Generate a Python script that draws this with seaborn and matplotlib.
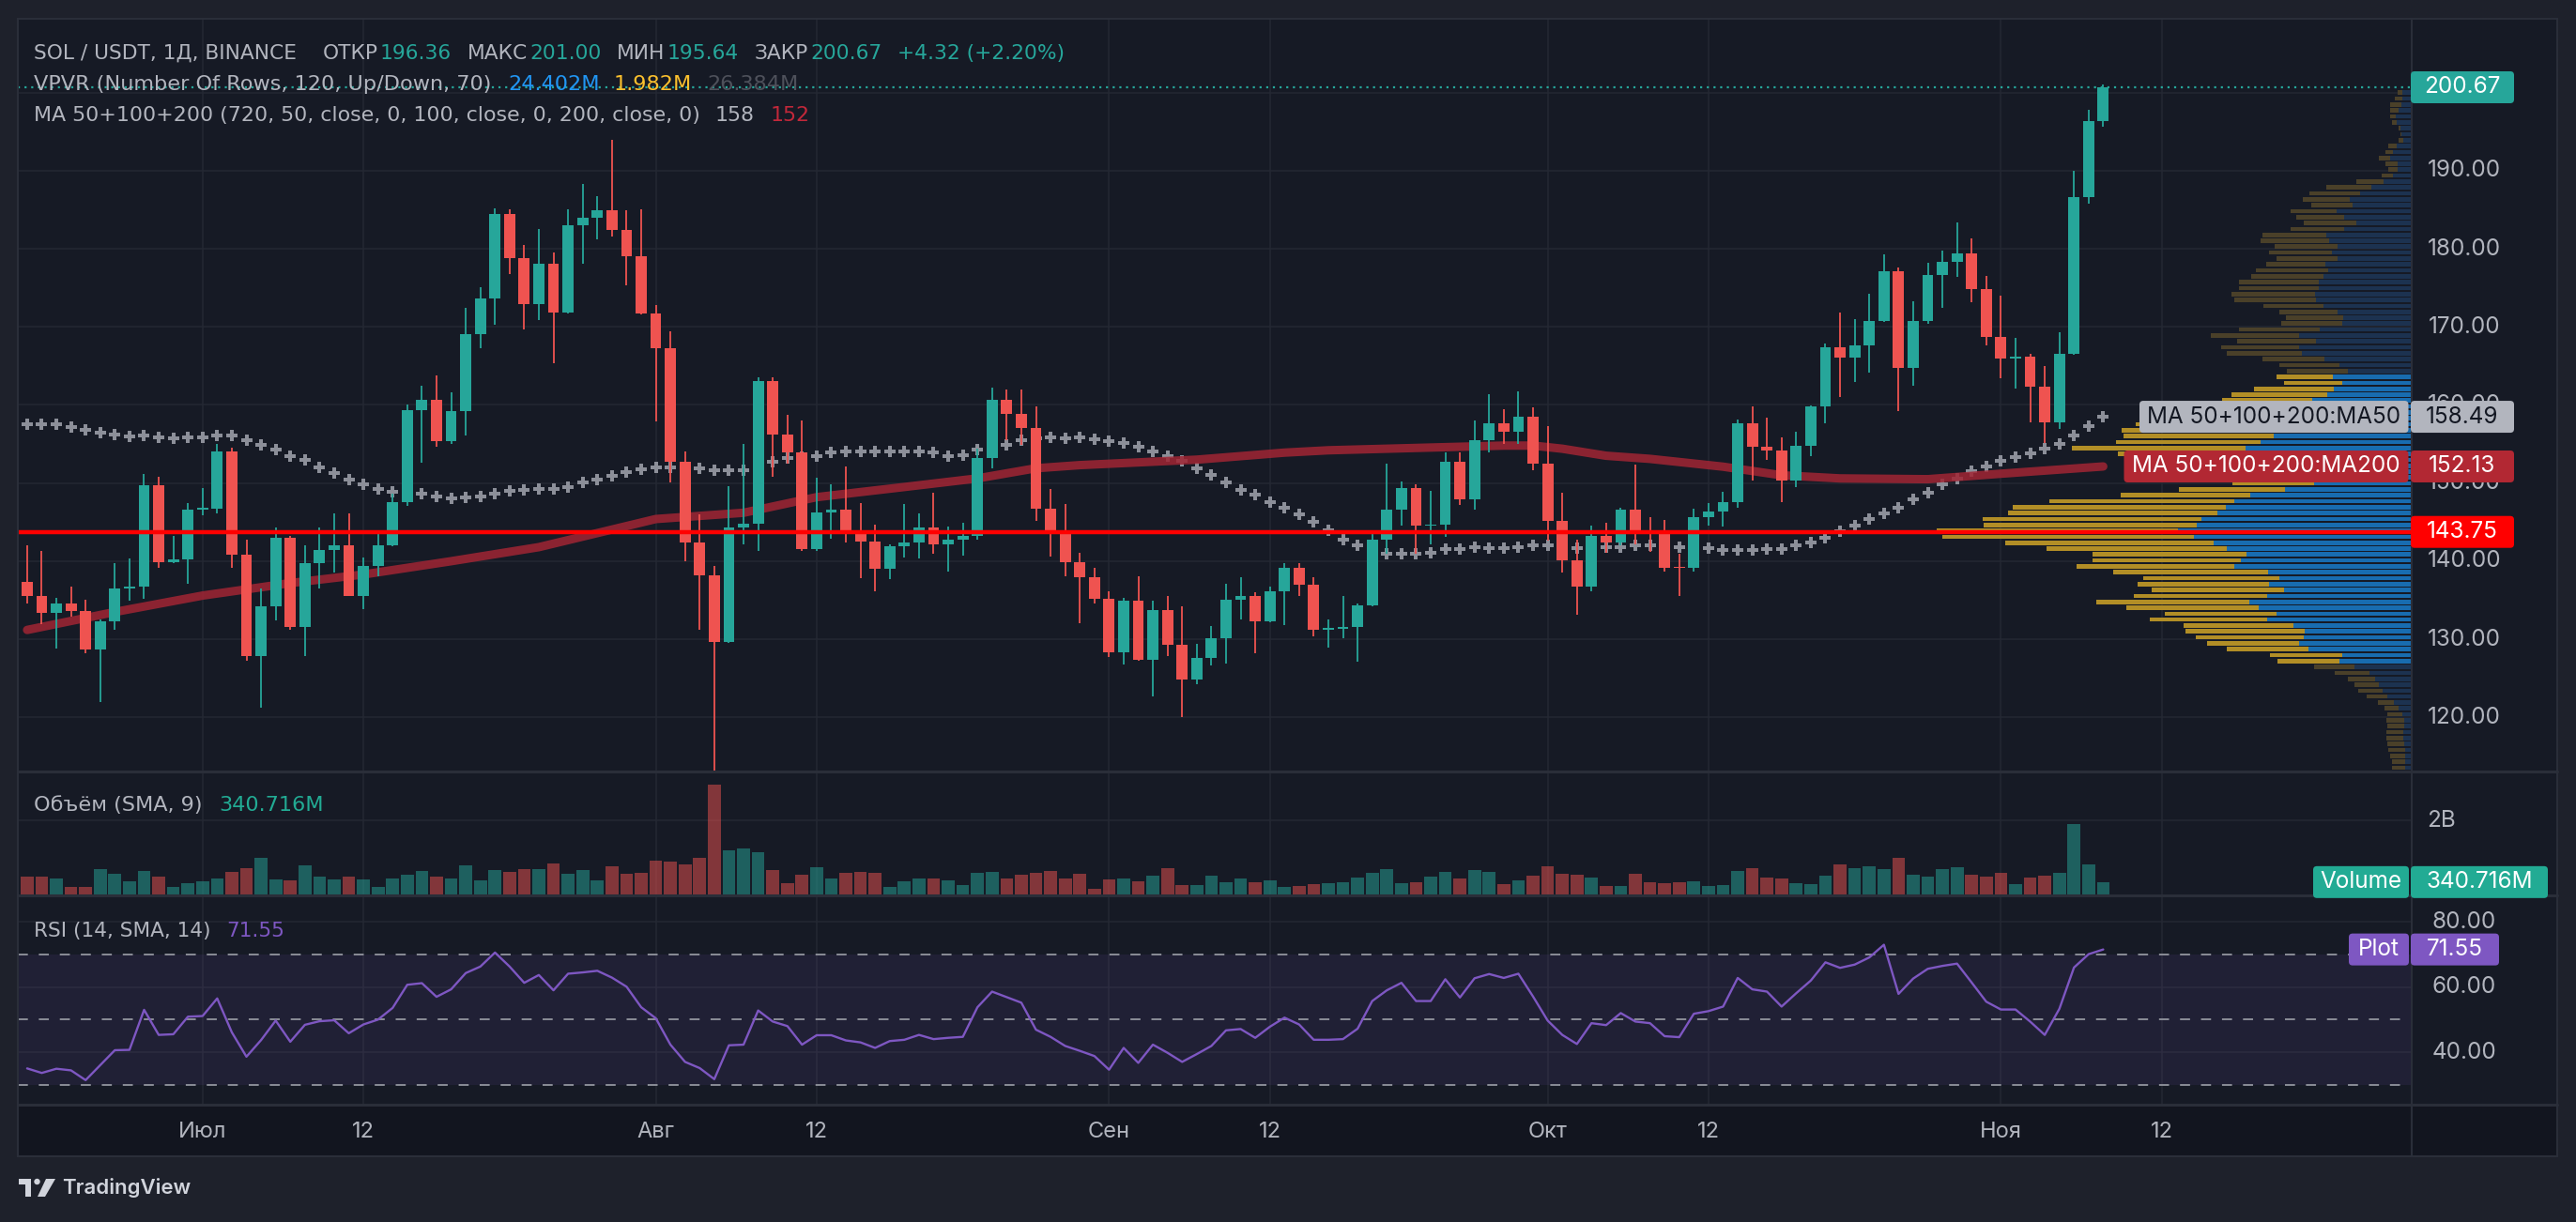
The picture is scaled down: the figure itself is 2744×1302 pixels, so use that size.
import numpy as np
import pandas as pd
import matplotlib
matplotlib.use("Agg")
import matplotlib.pyplot as plt
import seaborn as sns
from matplotlib.patches import FancyBboxPatch, Rectangle, Circle, Polygon
from matplotlib.lines import Line2D
from matplotlib.transforms import IdentityTransform
from matplotlib.colors import to_rgba
from matplotlib.textpath import TextPath
from matplotlib.font_manager import FontProperties, findfont

# ---------------- data ----------------
start = pd.Timestamp("2024-06-19")

opens = [137.4, 135.5, 133.4, 134.6, 133.6, 128.7, 132.3, 136.5, 136.8, 149.7,
         139.9, 140.2, 146.6, 146.7, 154.1, 140.8, 127.8, 134.2, 143.0, 131.6,
         139.7, 141.4, 142.0, 135.6, 139.4, 142.0, 147.6, 159.3, 160.6, 155.4,
         159.2, 169.1, 173.6, 184.4, 178.8, 172.9, 178.1, 171.8, 183.0, 184.0,
         184.9, 182.4, 179.1, 171.7, 167.3, 152.7, 142.4, 138.2, 129.7, 144.3,
         144.8, 163.1, 156.2, 153.9, 141.5, 146.2, 146.6, 143.6, 142.5, 139.0,
         141.9, 142.4, 144.3, 142.2, 142.8, 143.2, 153.2, 160.7, 158.8, 157.0,
         146.7, 143.5, 139.9, 137.9, 135.2, 128.3, 135.0, 127.4, 133.7, 129.3,
         124.9, 127.6, 130.2, 135.1, 135.6, 132.3, 136.1, 139.1, 137.0, 131.2,
         131.4, 131.6, 134.3, 142.8, 146.6, 149.4, 144.5, 144.7, 152.7, 147.9,
         155.5, 157.6, 156.6, 158.5, 152.5, 145.2, 140.1, 136.7, 143.2, 142.4,
         146.6, 143.8, 143.6, 139.2, 139.1, 145.6, 146.4, 147.6, 157.6, 154.7,
         154.2, 150.3, 154.8, 159.8, 167.4, 166.1, 167.6, 170.8, 177.1, 164.8,
         170.8, 176.6, 178.3, 179.4, 174.8, 168.7, 166.0, 166.2, 162.3, 157.8,
         166.5, 186.6, 196.36]
highs = [142.0, 141.3, 135.3, 136.7, 135.1, 132.6, 139.8, 140.3, 151.2, 150.8,
         143.2, 147.5, 149.4, 155.0, 154.5, 142.7, 136.5, 144.3, 143.2, 142.0,
         144.3, 146.1, 146.1, 140.5, 143.5, 148.7, 160.0, 162.5, 163.8, 161.6,
         172.4, 175.1, 185.2, 185.1, 180.5, 182.5, 179.5, 185.1, 188.3, 186.7,
         194.0, 184.9, 185.1, 172.8, 169.4, 154.1, 146.0, 139.4, 149.6, 155.0,
         163.6, 163.5, 158.7, 158.0, 150.7, 149.8, 152.1, 147.5, 144.7, 142.1,
         147.3, 146.1, 148.8, 144.4, 144.9, 154.4, 162.2, 162.0, 162.0, 159.8,
         149.2, 147.3, 141.1, 139.2, 136.2, 135.3, 138.1, 135.0, 135.6, 134.2,
         129.4, 131.7, 137.1, 138.0, 136.0, 136.8, 139.8, 139.8, 138.0, 132.5,
         135.6, 134.6, 143.6, 152.5, 150.2, 149.8, 149.0, 153.9, 153.9, 158.0,
         161.4, 159.4, 161.7, 159.7, 157.3, 148.8, 142.8, 144.5, 144.9, 146.8,
         152.4, 145.6, 145.3, 140.9, 146.7, 147.4, 148.9, 158.1, 159.8, 158.4,
         155.8, 156.6, 159.9, 167.9, 171.8, 171.0, 174.2, 179.3, 177.6, 173.3,
         178.2, 179.8, 183.4, 181.3, 176.5, 174.0, 168.6, 166.5, 165.0, 169.3,
         190.0, 197.8, 201.0]
lows = [134.6, 131.9, 128.8, 132.9, 128.2, 122.0, 131.2, 134.9, 135.2, 139.1,
        139.7, 137.1, 145.9, 146.1, 139.1, 127.2, 121.2, 132.4, 131.2, 127.8,
        136.5, 138.6, 135.5, 133.9, 138.1, 141.9, 147.1, 152.6, 154.7, 155.0,
        156.1, 167.3, 170.3, 176.7, 169.7, 170.9, 165.3, 171.7, 178.1, 181.2,
        181.6, 175.3, 171.6, 157.9, 150.1, 140.0, 131.2, 113.2, 129.5, 142.2,
        141.3, 150.8, 152.5, 141.3, 141.3, 142.9, 142.4, 137.8, 136.2, 137.7,
        140.5, 140.3, 141.0, 138.7, 140.7, 142.7, 151.9, 155.5, 154.9, 145.1,
        140.6, 138.1, 132.1, 134.6, 127.7, 126.8, 127.2, 122.7, 127.9, 120.1,
        124.3, 126.6, 126.9, 132.5, 128.2, 132.2, 131.8, 135.6, 130.4, 128.9,
        130.2, 127.1, 134.2, 141.0, 144.6, 141.0, 142.2, 143.1, 147.2, 146.6,
        153.9, 155.0, 155.0, 151.7, 142.6, 138.6, 133.2, 136.1, 141.1, 142.0,
        142.1, 141.2, 138.7, 135.5, 138.7, 144.6, 144.4, 146.8, 150.3, 153.0,
        147.6, 149.5, 153.4, 157.6, 161.0, 163.0, 164.2, 170.6, 159.2, 162.5,
        170.4, 172.4, 176.4, 173.1, 167.6, 163.4, 162.1, 157.8, 155.1, 156.9,
        166.4, 185.8, 195.64]
closes = [135.5, 133.4, 134.6, 133.6, 128.7, 132.3, 136.5, 136.8, 149.7, 139.9,
          140.2, 146.6, 146.7, 154.1, 140.8, 127.8, 134.2, 143.0, 131.6, 139.7,
          141.4, 142.0, 135.6, 139.4, 142.0, 147.6, 159.3, 160.6, 155.4, 159.2,
          169.1, 173.6, 184.4, 178.8, 172.9, 178.1, 171.8, 183.0, 184.0, 184.9,
          182.4, 179.1, 171.7, 167.3, 152.7, 142.4, 138.2, 129.7, 144.3, 144.8,
          163.1, 156.2, 153.9, 141.5, 146.2, 146.6, 143.6, 142.5, 139.0, 141.9,
          142.4, 144.3, 142.2, 142.8, 143.2, 153.2, 160.7, 158.8, 157.0, 146.7,
          143.5, 139.9, 137.9, 135.2, 128.3, 135.0, 127.4, 133.7, 129.3, 124.9,
          127.6, 130.2, 135.1, 135.6, 132.3, 136.1, 139.1, 137.0, 131.2, 131.5,
          131.6, 134.3, 142.8, 146.6, 149.4, 144.5, 144.7, 152.7, 147.9, 155.5,
          157.6, 156.6, 158.5, 152.5, 145.2, 140.1, 136.7, 143.2, 142.4, 146.6,
          143.8, 143.6, 139.2, 139.1, 145.6, 146.4, 147.6, 157.6, 154.7, 154.2,
          150.3, 154.8, 159.8, 167.4, 166.1, 167.6, 170.8, 177.1, 164.8, 170.8,
          176.6, 178.3, 179.4, 174.8, 168.7, 166.0, 166.2, 162.3, 157.8, 166.5,
          186.6, 196.35, 200.67]

# daily volume, billions of USDT
volume_b = [.50, .48, .43, .21, .22, .70, .56, .35, .65, .50,
            .22, .30, .35, .43, .61, .71, .99, .40, .38, .79,
            .48, .40, .48, .41, .20, .45, .53, .63, .48, .43,
            .79, .38, .66, .61, .69, .69, .84, .56, .66, .38,
            .76, .56, .58, .92, .89, .81, .99, 2.96, 1.20, 1.25,
            1.15, .66, .30, .53, .74, .43, .58, .61, .58, .22,
            .35, .43, .45, .38, .27, .58, .61, .43, .53, .58,
            .63, .43, .56, .17, .40, .43, .35, .51, .71, .27,
            .27, .51, .33, .43, .33, .38, .20, .24, .28, .31,
            .34, .46, .59, .69, .31, .34, .49, .62, .44, .67,
            .62, .29, .39, .51, .77, .57, .54, .46, .24, .24,
            .57, .34, .31, .34, .36, .24, .26, .64, .72, .46,
            .44, .31, .29, .51, .82, .72, .77, .69, 1.00, .54,
            .49, .69, .74, .54, .49, .59, .29, .46, .51, .59,
            1.91, .82, .340716]

rsi = [35.0, 33.6, 34.9, 34.4, 31.4, 36.0, 40.6, 40.7, 53.0, 45.3,
       45.5, 50.9, 51.1, 56.5, 46.1, 38.6, 43.7, 49.7, 43.2, 48.4,
       49.5, 49.8, 45.8, 48.5, 50.0, 53.6, 60.7, 61.2, 57.0, 59.3,
       64.3, 66.3, 70.6, 66.3, 61.3, 63.7, 59.0, 64.1, 64.5, 65.0,
       62.9, 60.1, 53.8, 50.4, 42.3, 37.0, 35.1, 31.7, 42.1, 42.3,
       52.8, 49.4, 48.0, 42.3, 45.2, 45.2, 43.6, 43.0, 41.3, 43.4,
       43.8, 45.3, 44.0, 44.4, 44.7, 53.8, 58.6, 56.9, 55.2, 46.9,
       44.7, 41.9, 40.4, 38.8, 34.6, 41.3, 36.7, 42.3, 39.8, 37.0,
       39.4, 41.9, 46.7, 47.1, 44.4, 47.8, 50.6, 48.5, 43.8, 43.8,
       44.0, 47.2, 55.7, 59.0, 61.3, 55.7, 55.7, 62.4, 56.8, 62.7,
       64.0, 62.8, 64.1, 57.1, 49.7, 45.3, 42.5, 48.9, 48.3, 52.0,
       49.4, 48.9, 44.9, 44.6, 51.8, 52.6, 54.0, 62.8, 59.3, 58.6,
       54.0, 58.1, 62.0, 67.6, 65.9, 66.9, 69.1, 73.0, 57.9, 62.6,
       65.6, 66.5, 67.2, 61.4, 55.5, 53.1, 53.1, 49.4, 45.3, 53.3,
       66.0, 70.1, 71.55]

ma50 = [157.5, 157.5, 157.5, 157.2, 156.8, 156.5, 156.2, 156.0, 156.1, 155.9,
        155.7, 155.9, 155.9, 156.1, 156.1, 155.5, 154.9, 154.3, 153.5, 153.0,
        152.0, 151.3, 150.5, 149.8, 149.2, 148.9, 148.7, 148.6, 148.3, 148.1,
        148.2, 148.3, 148.7, 149.0, 149.1, 149.2, 149.2, 149.5, 150.1, 150.5,
        150.9, 151.4, 151.8, 152.0, 152.0, 151.9, 151.9, 151.6, 151.6, 151.7,
        152.2, 152.7, 153.2, 153.3, 153.5, 153.9, 154.0, 154.1, 154.0, 154.0,
        154.0, 154.0, 153.9, 153.5, 153.6, 154.3, 154.6, 154.9, 155.5, 155.7,
        155.8, 155.7, 155.8, 155.6, 155.4, 155.1, 154.6, 154.0, 153.4, 152.8,
        151.9, 151.1, 150.1, 149.1, 148.5, 147.6, 146.9, 146.0, 145.0, 143.9,
        142.8, 142.0, 141.4, 141.0, 140.9, 140.9, 141.1, 141.5, 141.6, 141.8,
        141.7, 141.7, 141.8, 142.0, 142.0, 141.9, 141.7, 141.7, 141.8, 141.8,
        142.0, 142.0, 141.8, 141.8, 141.7, 141.7, 141.4, 141.4, 141.4, 141.5,
        141.5, 142.0, 142.4, 143.0, 143.8, 144.5, 145.4, 146.1, 146.9, 147.9,
        148.8, 149.9, 150.6, 151.5, 152.1, 152.8, 153.3, 153.8, 154.4, 155.0,
        156.1, 157.3, 158.49]

ma200_day = [0, 6, 12, 18, 23, 29, 35, 43, 49, 54, 60, 65, 69, 72, 80, 86, 89,
             95, 101, 103, 105, 108, 111, 116, 120, 124, 130, 135, 142]
ma200 = [131.2, 133.5, 135.6, 137.2, 138.3, 140.0, 141.8, 145.4, 146.2, 148.2,
         149.5, 150.6, 151.9, 152.3, 153.0, 153.9, 154.2, 154.5, 154.8, 154.8,
         154.4, 153.5, 153.1, 152.1, 151.0, 150.6, 150.5, 151.2, 152.13]

# visible range volume profile, rows from top to bottom
vp_up = [10, 10, 11, 14, 17, 16, 12, 11, 9, 16,
         20, 23, 15, 15, 20, 30, 43, 55, 66, 63,
         80, 72, 59, 72, 91, 88, 79, 85, 79, 92,
         89, 94, 99, 99, 103, 102, 94, 79, 73, 74,
         98, 120, 102, 120, 117, 93, 77, 68, 84, 74,
         83, 90, 106, 110, 120, 130, 145, 150, 147, 161,
         177, 160, 150, 140, 125, 115, 104, 135, 172, 189,
         198, 207, 224, 229, 249, 232, 211, 197, 176, 182,
         189, 153, 141, 152, 136, 154, 173, 163, 144, 154,
         126, 114, 115, 120, 110, 74, 77, 61, 45, 39,
         35, 31, 26, 19, 14, 10, 8, 8, 9, 9,
         8, 7, 7, 7, 7]
vp_down = [5, 8, 12, 9, 6, 5, 2, 1, 5, 9,
           8, 12, 13, 10, 12, 29, 48, 54, 50, 44,
           49, 51, 56, 57, 68, 73, 67, 67, 65, 63,
           77, 77, 85, 85, 89, 87, 64, 62, 61, 65,
           86, 94, 84, 83, 80, 66, 64, 65, 60, 62,
           85, 102, 96, 115, 130, 142, 149, 159, 160, 154,
           185, 153, 140, 125, 115, 100, 87, 113, 138, 197,
           227, 223, 233, 227, 257, 268, 222, 192, 164, 158,
           168, 165, 145, 140, 141, 142, 163, 141, 119, 125,
           117, 127, 115, 98, 87, 77, 66, 43, 37, 29,
           26, 26, 22, 17, 15, 16, 19, 18, 18, 18,
           18, 18, 16, 14, 14]
vp_top, vp_bottom = 200.35, 113.2
va_high, va_low = 164.0, 126.9

hline_price = 143.75
price_ticks = [120, 130, 140, 150, 160, 170, 180, 190, 200]
tick_dates = ["2024-07-01", "2024-07-12", "2024-08-01", "2024-08-12", "2024-09-01",
              "2024-09-12", "2024-10-01", "2024-10-12", "2024-11-01", "2024-11-12"]
tick_labels = ["Июл", "12", "Авг", "12", "Сен", "12", "Окт", "12", "Ноя", "12"]

# ---------------- style ----------------
sns.set_theme(style="dark")
plt.rcParams["font.family"] = ["Inter", "DejaVu Sans"]

W, H = 2744, 1302
OUTER = "#1e212b"
PANE = "#161a25"
AXIS_BG = "#12151f"
GRID = "#242833"
SEP = "#2a2e39"
TXT = "#b2b5be"
BULL = "#26a69a"
BEAR = "#ef5350"
FS = 17.5

fig = plt.figure(figsize=(W / 100, H / 100), dpi=100)
fig.patch.set_facecolor(OUTER)
renderer = fig.canvas.get_renderer()


def px_rect(x0, y0, x1, y1, color, z=-1):
    fig.add_artist(Rectangle((x0, H - y1), x1 - x0, y1 - y0, transform=IdentityTransform(),
                             facecolor=color, edgecolor="none", zorder=z))


def px_line(x0, y0, x1, y1, lw, color=SEP):
    fig.add_artist(Line2D([x0, x1], [H - y0, H - y1], transform=IdentityTransform(),
                          color=color, lw=lw, zorder=4))


def px_axes(x0, y0, x1, y1, z):
    ax = fig.add_axes([x0 / W, 1 - y1 / H, (x1 - x0) / W, (y1 - y0) / H])
    ax.set_axis_off()
    ax.set_zorder(z)
    return ax


px_rect(19, 20, 2724, 1232, PANE)
px_rect(19, 1177, 2724, 1232, AXIS_BG)

x = np.arange(len(closes))
xlim = (-0.636, 163.1)
price_lim = (113.2, 209.44)
tick_pos = [(pd.Timestamp(d) - start).days for d in tick_dates]

ax_bg = px_axes(19, 20, 2569, 821, 0.1)
ax_vp = px_axes(19, 20, 2569, 821, 0.2)
ax_p = px_axes(19, 20, 2569, 821, 0.3)
ax_v = px_axes(19, 822.7, 2569, 953.3, 0.3)
ax_r = px_axes(19, 955, 2569, 1176.7, 0.3)

# grid
for v in price_ticks:
    ax_bg.axhline(v, color=GRID, lw=1.1)
for ax in (ax_bg, ax_v, ax_r):
    for t in tick_pos:
        ax.axvline(t, color=GRID, lw=1.1, zorder=0)
ax_v.axhline(2, color=GRID, lw=1.1, zorder=0)
for v in (40, 60, 80):
    ax_r.axhline(v, color=GRID, lw=1.1, zorder=0)

# candles
o = np.array(opens)
c = np.array(closes)
hi = np.array(highs)
lo = np.array(lows)
up = c >= o
col = np.where(up, BULL, BEAR)
ax_p.vlines(x, lo, hi, colors=col, lw=1.3, zorder=3)
ax_p.bar(x, np.maximum(np.abs(c - o), 0.2), bottom=np.minimum(o, c), width=0.76,
         color=col, linewidth=0, zorder=4)

# moving averages
sns.scatterplot(x=x, y=ma50, marker="P", s=80, color="#8c8f99", linewidth=0,
                ax=ax_p, zorder=2)
sns.lineplot(x=ma200_day, y=ma200, ax=ax_p, color="#a12534", alpha=0.85, lw=6.5,
             solid_capstyle="round", zorder=2.5)

ax_p.axhline(hline_price, color="#ff0000", lw=3.2, zorder=6)
ax_p.axhline(closes[-1], color=BULL, lw=1.6, ls=(0, (1, 2.2)), zorder=1)

# volume profile
vu = np.array(vp_up, dtype=float)
vd = np.array(vp_down, dtype=float)
step = (vp_top - vp_bottom) / len(vu)
centers = vp_top - step * (np.arange(len(vu)) + 0.5)
inside = (centers <= va_high) & (centers >= va_low)
ax_vp.barh(centers, vu, height=step * 0.74, left=0,
           color=np.where(inside, "#186cb0", "#1c3250"), linewidth=0)
ax_vp.barh(centers, vd, height=step * 0.74, left=vu,
           color=np.where(inside, "#b28e26", "#4a4029"), linewidth=0)
ax_vp.set_xlim((vu + vd).max() / 0.1985, 0)

for ax in (ax_bg, ax_vp, ax_p):
    ax.set_ylim(price_lim)
for ax in (ax_bg, ax_p):
    ax.set_xlim(xlim)

# volume pane
vcol = [to_rgba(BULL if u else BEAR, 0.5) for u in up]
ax_v.bar(x, volume_b, width=0.88, color=vcol, linewidth=0, zorder=2)
ax_v.set_xlim(xlim)
ax_v.set_ylim(0, 3.306)

# RSI pane
ax_r.axhspan(30, 70, color="#7e57c2", alpha=0.1, lw=0, zorder=0)
for v in (70, 50, 30):
    ax_r.axhline(v, color="#8a8d97", lw=1.4, ls=(0, (5.5, 6)), zorder=1)
sns.lineplot(x=x, y=rsi, ax=ax_r, color="#7e57c2", lw=1.7, zorder=3)
ax_r.set_xlim(xlim)
ax_r.set_ylim(23.94, 87.88)

# frame and separators
for yy in (821.7, 954.2, 1176.7):
    px_line(19, yy, 2724, yy, 2.2)
px_line(2569, 20, 2569, 1232, 1.5)
fig.add_artist(Rectangle((19, H - 1232), 2705, 1212, transform=IdentityTransform(),
                         facecolor="none", edgecolor=SEP, lw=1.5, zorder=4))


def ypx(ax, v):
    return H - ax.transData.transform((0, v))[1]


def tag(x0, x1, yc, color, text, tcolor="white"):
    fig.add_artist(FancyBboxPatch((x0, H - yc - 17), x1 - x0, 34,
                                  boxstyle="round,pad=0,rounding_size=4",
                                  transform=IdentityTransform(), facecolor=color,
                                  edgecolor="none", zorder=5))
    fig.text((x0 + x1) / 2 / W, 1 - yc / H, text, ha="center", va="center",
             fontsize=FS, color=tcolor, zorder=6)


# right axis labels (the one under the last-price tag is hidden there)
for v in price_ticks:
    if abs(v - closes[-1]) < 3:
        continue
    fig.text(2625 / W, 1 - ypx(ax_p, v) / H, f"{v:.2f}", ha="center", va="center",
             fontsize=FS, color=TXT)
fig.text(2585 / W, 1 - ypx(ax_v, 2) / H, "2B", ha="left", va="center", fontsize=FS, color=TXT)
for v in (80, 60, 40):
    fig.text(2625 / W, 1 - ypx(ax_r, v) / H, f"{v:.2f}", ha="center", va="center",
             fontsize=FS, color=TXT)

y50 = ypx(ax_p, ma50[-1])
y200 = ypx(ax_p, ma200[-1])
tag(2568, 2678, ypx(ax_p, closes[-1]), BULL, f"{closes[-1]:.2f}")
tag(2279, 2565.5, y50, "#b2b5be", "MA 50+100+200:MA50", "#131722")
tag(2568, 2678, y50, "#b2b5be", f"{ma50[-1]:.2f}", "#131722")
tag(2262.5, 2565.5, y200, "#b22833", "MA 50+100+200:MA200")
tag(2568, 2678, y200, "#b22833", f"{ma200[-1]:.2f}")
tag(2568, 2678, ypx(ax_p, hline_price), "#ff0000", f"{hline_price:.2f}")
yv = ypx(ax_v, volume_b[-1])
vol_txt = f"{volume_b[-1] * 1000:.3f}M"
tag(2464, 2566, yv, "#22ab94", "Volume")
tag(2568, 2714, yv, "#22ab94", vol_txt)
yr = ypx(ax_r, rsi[-1])
tag(2502, 2566, yr, "#7e57c2", "Plot")
tag(2568, 2662, yr, "#7e57c2", f"{rsi[-1]:.2f}")

# time axis
for p, lab in zip(tick_pos, tick_labels):
    xf = ax_r.transData.transform((p, 0))[0] / W
    fig.text(xf, 1 - 1206 / H, lab, ha="center", va="center", fontsize=17, color=TXT)

# ---- pane legends: choose the installed family whose proportions match best ----
chg = closes[-1] - closes[-2]
rows = [
    (57, 1136, [("SOL / USDT, 1Д, BINANCE", TXT, 26),
                ("ОТКР", TXT, 2), (f"{opens[-1]:.2f}", BULL, 16),
                ("МАКС", TXT, 2), (f"{highs[-1]:.2f}", BULL, 16),
                ("МИН", TXT, 2), (f"{lows[-1]:.2f}", BULL, 16),
                ("ЗАКР", TXT, 2), (f"{closes[-1]:.2f}", BULL, 16),
                (f"+{chg:.2f} (+{chg / closes[-2] * 100:.2f}%)", BULL, 0)]),
    (90, 853, [("VPVR (Number Of Rows, 120, Up/Down, 70)", TXT, 17),
               ("24.402M", "#2196f3", 13), ("1.982M", "#fbc02d", 15),
               ("26.384M", "#4e515b", 0)]),
    (123, 862, [("MA 50+100+200 (720, 50, close, 0, 100, close, 0, 200, close, 0)", TXT, 15),
                (f"{ma50[-1]:.0f}", TXT, 15), (f"{ma200[-1]:.0f}", "#c2283a", 0)]),
    (858, 346, [("Объём (SMA, 9)", TXT, 16), (vol_txt, "#22ab94", 0)]),
    (992, 304, [("RSI (14, SMA, 14)", TXT, 16), (f"{rsi[-1]:.2f}", "#7e57c2", 0)]),
]
X0 = 36
CAP_PX = 15.0


def row_width(parts, fam, size):
    tot = 0.0
    for s, _, gap in parts:
        t = fig.text(0, 0, s, fontsize=size, family=[fam, "DejaVu Sans"])
        tot += t.get_window_extent(renderer).width + gap
        t.remove()
    return tot


best = None
for fam in ["Open Sans", "Noto Sans", "Inter", "Roboto", "Lato", "Liberation Sans", "DejaVu Sans"]:
    fp = FontProperties(family=fam)
    if fam.lower().replace(" ", "") not in findfont(fp).lower().replace("-", "").replace("_", ""):
        continue
    cap = TextPath((0, 0), "H", size=1, prop=fp).get_extents().height
    size = CAP_PX * 0.72 / cap
    err = sum(abs(row_width(p, fam, size) / (xe - X0) - 1) for _, xe, p in rows)
    if best is None or err < best[0]:
        best = (err, fam, size)
_, LEG_FAM, LEG_SIZE = best

for y0, x_end, parts in rows:
    k = (x_end - X0) / row_width(parts, LEG_FAM, LEG_SIZE)
    k = min(max(k, 0.9), 1.1)
    size = LEG_SIZE * k
    xx = X0
    for s, colr, gap in parts:
        t = fig.text(xx / W, 1 - y0 / H, s, color=colr, fontsize=size, ha="left",
                     va="center", family=[LEG_FAM, "DejaVu Sans"])
        xx += t.get_window_extent(renderer).width + gap * k

# TradingView logo
LOGO = "#d1d4dc"
for patch in (Rectangle((20, H - 1262), 13, 6),
              Rectangle((27, H - 1275), 6, 19),
              Circle((39.5, H - 1259), 3.2),
              Polygon([(49, H - 1256), (59, H - 1256), (48, H - 1275), (40, H - 1275)])):
    patch.set_transform(IdentityTransform())
    patch.set_facecolor(LOGO)
    patch.set_edgecolor("none")
    patch.set_zorder(5)
    fig.add_artist(patch)
fig.text(66 / W, 1 - 1266 / H, "TradingView", ha="left", va="center", fontsize=16,
         color=LOGO, fontweight="semibold")

fig.savefig("out.png", dpi=100, facecolor=fig.get_facecolor())
